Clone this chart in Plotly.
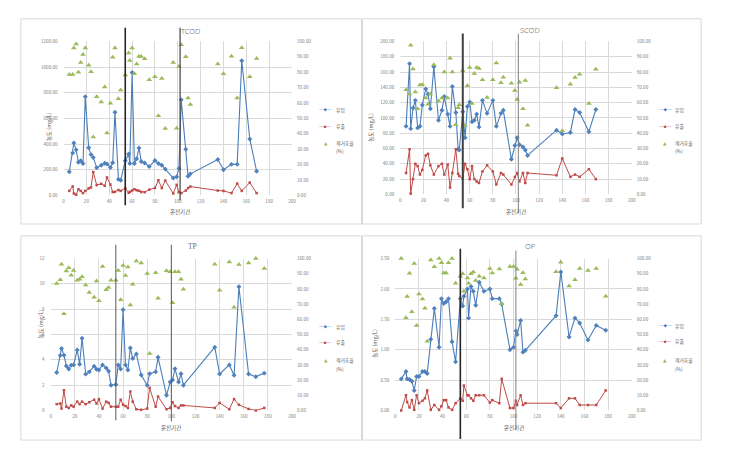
import plotly.graph_objects as go

W, H = 741, 449

# ====================== DATA ======================
x_tick_values = [0, 20, 40, 60, 80, 100, 120, 140, 160, 180, 200]
removal_tick_values = [0, 10, 20, 30, 40, 50, 60, 70, 80, 90, 100]
legend_labels = ["유입", "유출", "제거효율", "(%)"]
x_title = "운전기간"
y_title = "농도 (mg/L)"

# --- TCOD ---
tcod_days = [5, 8, 9, 11, 13, 15, 17, 19, 22, 24, 26, 29, 33, 36, 38, 41, 43, 45, 48, 50,
             54, 57, 58, 60, 62, 64, 66, 68, 71, 75, 80, 83, 86, 89, 96, 99, 101, 103, 107, 109,
             111, 135, 140, 147, 152, 156, 163, 169]
tcod_influent = [185, 330, 408, 355, 258, 270, 248, 770, 372, 318, 295, 215, 235, 250, 245, 218,
                 255, 648, 125, 118, 270, 322, 248, 958, 248, 285, 370, 265, 252, 225, 272, 248,
                 235, 205, 135, 145, 210, 745, 360, 150, 168, 280, 200, 242, 242, 1050, 440, 188]
tcod_effluent = [35, 70, 15, 5, 48, 35, 18, 35, 55, 62, 182, 80, 90, 75, 140, 85,
                 26, 28, 42, 35, 55, 20, 28, 38, 48, 40, 36, 26, 25, 45, 58, 118,
                 57, 116, 15, 82, 25, 18, 38, 57, 69, 38, 35, 18, 92, 35, 100, 18]
tcod_removal = [78.6, 78.6, 95.7, 98.3, 80, 86.3, 91.5, 95.7, 84.6, 80.3, 38, 64.1, 60.7, 70.5,
                40.6, 59.8, 89.7, 95.7, 62.8, 68.4, 78.2, 92.5, 87.6, 95.7, 79, 85.3, 90.2, 90.2,
                88.7, 75.2, 77.1, 51.7, 75.9, 43.4, 86.3, 43.6, 83.8, 97.9, 90, 63.2, 59, 85.3,
                79, 90.4, 63.2, 95.9, 77.1, 88.9]
tcod_yticks = [0, 200, 400, 600, 800, 1000, 1200]
tcod_phase = [54, 102]

# --- SCOD ---
scod_days = [5, 8, 9, 11, 13, 15, 17, 19, 22, 24, 26, 29, 33, 36, 38, 41, 43, 45, 48, 50,
             51, 54, 56, 58, 60, 62, 64, 66, 68, 71, 75, 80, 83, 87, 89, 96, 99, 101, 103, 106,
             108, 110, 135, 140, 147, 151, 155, 163, 169]
scod_influent = [89, 171, 86, 113, 123, 87, 89, 117, 138, 131, 112, 167, 97, 110, 128, 105,
                 89, 141, 107, 59, 58, 108, 74, 115, 121, 95, 97, 105, 88, 123, 106, 123,
                 89, 106, 110, 46, 64, 74, 65, 62, 58, 51, 84, 79, 81, 111, 107, 82, 111]
scod_effluent = [28, 59, 1, 20, 40, 37, 26, 32, 51, 53, 38, 26, 37, 40, 26, 39,
                 9, 28, 59, 27, 24, 21, 40, 33, 20, 37, 20, 17, 15, 30, 38, 30,
                 13, 28, 26, 13, 23, 28, 17, 28, 15, 28, 25, 47, 23, 26, 23, 33, 20]
scod_removal = [68.5, 65.7, 97.6, 82, 67, 56, 71.5, 71.7, 63, 59, 65.7, 84.8, 61, 63, 80, 63,
                89, 80, 45.5, 56.7, 58.6, 81, 45, 71, 83, 59.4, 79, 83, 82.4, 75, 63.3, 75,
                86, 73, 76.6, 72.7, 68, 62, 73.4, 56, 74.5, 45.3, 69.7, 41.6, 72, 76.4, 78.5,
                59.4, 81.8]
scod_yticks = [0, 20, 40, 60, 80, 100, 120, 140, 160, 180, 200]
scod_phase = [54, 102]

# --- TP ---
tp_days = [5, 8, 9, 11, 13, 15, 17, 19, 22, 24, 26, 29, 32, 36, 38, 40, 43, 46, 48, 50,
           54, 56, 58, 60, 62, 64, 66, 68, 71, 75, 80, 82, 87, 89, 96, 99, 101, 103, 106, 108,
           110, 136, 140, 148, 152, 156, 164, 170, 177]
tp_influent = [3.0, 4.35, 4.9, 4.37, 3.52, 3.27, 3.58, 3.6, 4.77, 3.65, 5.7, 2.87, 3.05, 3.5,
               3.25, 3.2, 3.6, 3.35, 3.1, 2.0, 2.05, 3.6, 3.28, 7.95, 3.6, 3.2, 4.93, 4.1, 4.47,
               2.8, 2.0, 2.9, 3.05, 4.2, 1.2, 2.25, 2.4, 3.3, 2.25, 2.9, 2.0, 5.0, 2.88, 3.6,
               2.78, 9.78, 2.88, 2.67, 2.95]
tp_effluent = [0.5, 0.55, 0.15, 1.6, 0.3, 0.2, 0.4, 0.3, 0.7, 0.5, 0.7, 0.5, 0.65, 0.85, 0.55,
               0.9, 0.15, 0.7, 0.6, 0.3, 0.3, 0.3, 0.85, 0.45, 0.35, 0.2, 1.5, 0.7, 0.1, 0.05,
               0.15, 1.78, 0.3, 1.1, 0.1, 0.2, 0.65, 0.35, 0.2, 0.4, 0.4, 0.2, 0.6, 0.1, 0.9,
               0.45, 0.12, 0.0, 0.2]
tp_removal = [83.5, 86, 96.3, 63.6, 91.8, 93.9, 89, 92.2, 85.7, 86.3, 88, 82.6, 77.7, 74.6,
              85.2, 72.2, 94.8, 79.4, 80.9, 85.7, 85.7, 92.2, 72.9, 95.4, 88.9, 94.4, 69.4, 83.1,
              98.3, 97, 90.2, 37.5, 90.7, 73.8, 92, 91.3, 70.9, 91.3, 91.3, 86.3, 79.8, 96.3,
              79.2, 97.8, 67.9, 96.1, 97, 100, 93.5]
tp_yticks = [0, 2, 4, 6, 8, 10, 12]
tp_phase = [54, 100]

# --- OP ---
op_days = [5, 9, 10, 12, 14, 16, 18, 20, 23, 25, 27, 30, 33, 37, 39, 41, 43, 45, 48, 51,
           55, 57, 58, 61, 62, 64, 66, 68, 71, 75, 80, 82, 88, 90, 97, 100, 102, 103, 106, 108,
           110, 136, 140, 147, 152, 156, 163, 170, 178]
op_influent = [0.52, 0.64, 0.52, 0.51, 0.48, 0.33, 0.56, 0.56, 0.64, 0.64, 0.61, 1.17, 1.68,
               1.04, 1.84, 1.76, 1.79, 1.84, 1.13, 0.8, 1.84, 1.72, 1.88, 2.0, 1.52, 2.04, 1.96,
               1.73, 2.11, 1.96, 2.0, 1.84, 1.84, 1.75, 1.0, 1.04, 1.31, 1.25, 1.48, 0.96, 0.99,
               1.56, 2.28, 1.21, 1.52, 1.44, 1.16, 1.4, 1.32]
op_effluent = [0, 0.25, 0.14, 0.05, 0.17, 0.01, 0.25, 0.12, 0.16, 0.2, 0.33, 0.01, 0.09, 0.01,
               0.07, 0.17, 0.17, 0.05, 0.01, 0.12, 0.2, 0.16, 0.41, 0.25, 0.25, 0.2, 0.16, 0.25,
               0.25, 0.25, 0.13, 0.17, 0.12, 0.52, 0.04, 0.04, 0.16, 0.09, 0.25, 0.09, 0.12, 0.12,
               0.04, 0.2, 0.2, 0.09, 0.09, 0.09, 0.33]
op_removal = [100, 61, 75, 90.3, 65, 96.8, 56, 76.6, 73.4, 67.3, 45.5, 99.1, 94.6, 100, 97.2,
              90.5, 90.5, 97.2, 100, 83.8, 88.3, 90, 78.4, 87.2, 83.8, 90, 91.1, 85.5, 88.3, 87.2,
              93.5, 90.5, 93.1, 70.3, 94.8, 94.8, 87, 92.9, 82.9, 90.7, 86.6, 91.3, 97.6, 82,
              86.1, 93.5, 92.2, 93.5, 75.1]
op_yticks = [0, 0.5, 1.0, 1.5, 2.0, 2.5]
op_phase = [55, 102]

# ====================== STYLE / LAYOUT (pixels) ======================
BLUE_LINE = "#4A7EBB"
BLUE_MK = "#4F81BD"
RED = "#BE4B48"
GREEN = "#9BBB59"
GRID = "#D9D9D9"
TICK = "#808080"
TEXT = "#595959"
TITLE = "#6E6E6E"
FRAME = "#D9D9D9"
FONT = "Noto Sans CJK KR"


def fx(p):
    return p / W


def fy(p):
    return 1 - p / H


panels = [
    dict(name="TCOD", title_font="Noto Sans", days=tcod_days, inf=tcod_influent,
         eff=tcod_effluent, rem=tcod_removal, yticks=tcod_yticks, fmt=".2f", phase=tcod_phase,
         frame=(20, 363, 16, 224), plot=(63, 293, 39, 195), title=(191, 28),
         xtitle=(180, 212), ytitle=(49, 125), leg_x=322, leg_y=(108, 125, 142, 150),
         phase_y=[(25, 205), (25, 200)], phase_style=[("#262626", 1.6), ("#404040", 1.2)]),
    dict(name="SCOD", title_font="Noto Sans", days=scod_days, inf=scod_influent,
         eff=scod_effluent, rem=scod_removal, yticks=scod_yticks, fmt=".2f", phase=scod_phase,
         frame=(364, 705, 16, 224), plot=(402, 635, 39, 194), title=(533, 27),
         xtitle=(519, 212), ytitle=(373, 126), leg_x=664, leg_y=(108, 125, 142, 150),
         phase_y=[(31, 208), (31, 213)], phase_style=[("#404040", 2), ("#808080", 1)]),
    dict(name="TP", title_font="Liberation Serif", days=tp_days, inf=tp_influent,
         eff=tp_effluent, rem=tp_removal, yticks=tp_yticks, fmt="d", phase=tp_phase,
         frame=(20, 363, 236, 443), plot=(50, 293, 259, 413), title=(193, 247),
         xtitle=(171, 431), ytitle=(40, 325), leg_x=322, leg_y=(328, 344, 362, 370),
         phase_y=[(245, 423), (245, 424)], phase_style=[("#595959", 1), ("#595959", 1)]),
    dict(name="OP", title_font="Noto Sans", days=op_days, inf=op_influent,
         eff=op_effluent, rem=op_removal, yticks=op_yticks, fmt=".2f", phase=op_phase,
         frame=(364, 705, 236, 443), plot=(397, 635, 259, 413), title=(533, 246),
         xtitle=(516, 431), ytitle=(377, 345), leg_x=664, leg_y=(327, 343, 362, 370),
         phase_y=[(249, 442), (251, 433)], phase_style=[("#262626", 1.6), ("#808080", 1)]),
]

fig = go.Figure()
shapes = []
annotations = []
layout_axes = {}

tickfont = dict(family=FONT, size=4.6, color=TICK)

for i, p in enumerate(panels, start=1):
    xs = "" if i == 1 else str(i)
    xname, yname, rname = "x" + xs, "y" + xs, "y" + str(i + 4)
    x0, x1, y0, y1 = p["plot"]
    ydom = [fy(y1), fy(y0)]

    layout_axes["xaxis" + xs] = dict(
        domain=[fx(x0), fx(x1)], anchor=yname, range=[0, 200], tickvals=x_tick_values,
        showgrid=True, gridcolor=GRID, gridwidth=0.8, zeroline=False, showline=False,
        ticks="", tickfont=tickfont, ticklabelstandoff=2, fixedrange=True)
    layout_axes["yaxis" + xs] = dict(
        domain=ydom, anchor=xname, range=[0, p["yticks"][-1]], tickvals=p["yticks"],
        tickformat=p["fmt"], showgrid=True, gridcolor=GRID, gridwidth=0.8, zeroline=False,
        showline=False, ticks="", tickfont=tickfont, ticklabelstandoff=5, fixedrange=True)
    layout_axes["yaxis" + str(i + 4)] = dict(
        domain=ydom, anchor=xname, overlaying=yname, side="right", range=[0, 100],
        tickvals=removal_tick_values, tickformat=".2f", showgrid=False, zeroline=False,
        showline=False, ticks="", tickfont=tickfont, ticklabelstandoff=4, fixedrange=True)

    fig.add_trace(go.Scatter(
        x=p["days"], y=p["inf"], mode="lines+markers", name=legend_labels[0],
        xaxis=xname, yaxis=yname, showlegend=False, cliponaxis=False,
        line=dict(color=BLUE_LINE, width=1.1),
        marker=dict(symbol="diamond", size=3.8, color=BLUE_MK)))
    fig.add_trace(go.Scatter(
        x=p["days"], y=p["eff"], mode="lines+markers", name=legend_labels[1],
        xaxis=xname, yaxis=yname, showlegend=False, cliponaxis=False,
        line=dict(color=RED, width=1.0),
        marker=dict(symbol="square", size=2.5, color=RED)))
    fig.add_trace(go.Scatter(
        x=p["days"], y=p["rem"], mode="markers", name=legend_labels[2] + legend_labels[3],
        xaxis=xname, yaxis=rname, showlegend=False, cliponaxis=False,
        marker=dict(symbol="triangle-up", size=5, color=GREEN)))

    # panel frame
    fx0, fx1, fy0, fy1 = p["frame"]
    shapes.append(dict(type="rect", xref="paper", yref="paper", x0=fx(fx0), x1=fx(fx1),
                       y0=fy(fy1), y1=fy(fy0), line=dict(color=FRAME, width=1), layer="below"))
    # phase boundary lines
    for day, (py0, py1), (col, wid) in zip(p["phase"], p["phase_y"], p["phase_style"]):
        shapes.append(dict(type="line", xref=xname, yref="paper", x0=day, x1=day,
                           y0=fy(py1), y1=fy(py0), line=dict(color=col, width=wid), layer="above"))

    # title
    annotations.append(dict(text=p["name"], x=fx(p["title"][0]), y=fy(p["title"][1]),
                            xref="paper", yref="paper", showarrow=False,
                            font=dict(family=p["title_font"], size=7.5, color=TITLE, weight=300),
                            xanchor="center", yanchor="middle"))
    # axis titles
    annotations.append(dict(text=x_title, x=fx(p["xtitle"][0]), y=fy(p["xtitle"][1]),
                            xref="paper", yref="paper", showarrow=False,
                            font=dict(family=FONT, size=5.5, color=TEXT),
                            xanchor="center", yanchor="middle"))
    annotations.append(dict(text=y_title, x=fx(p["ytitle"][0]), y=fy(p["ytitle"][1]),
                            xref="paper", yref="paper", showarrow=False, textangle=-90,
                            font=dict(family=FONT, size=5.5, color=TEXT),
                            xanchor="center", yanchor="middle"))
    # legend (symbols + labels)
    lx = p["leg_x"]
    ly = p["leg_y"]
    sym_texts = [f"<span style='color:{BLUE_LINE}'>—◆—</span>",
                 f"<span style='color:{RED}'>—▪—</span>",
                 f"<span style='color:{GREEN}'>▲</span>"]
    for k in range(3):
        annotations.append(dict(text=sym_texts[k], x=fx(lx + 5), y=fy(ly[k]),
                                xref="paper", yref="paper", showarrow=False,
                                font=dict(family="DejaVu Sans", size=4.5, color=TEXT),
                                xanchor="center", yanchor="middle"))
    for k, lab in enumerate(legend_labels):
        annotations.append(dict(text=lab, x=fx(lx + 13), y=fy(ly[k]),
                                xref="paper", yref="paper", showarrow=False,
                                font=dict(family=FONT, size=4.8, color=TEXT),
                                xanchor="left", yanchor="middle"))

fig.update_layout(
    width=W, height=H, autosize=False,
    margin=dict(l=0, r=0, t=0, b=0, pad=0),
    paper_bgcolor="white", plot_bgcolor="white",
    showlegend=False,
    font=dict(family=FONT, size=5, color=TEXT),
    shapes=shapes, annotations=annotations,
    **layout_axes,
)

fig.write_html("out.html", config={"displayModeBar": False},
               post_script="document.body.style.margin='0';document.body.style.overflow='hidden';")
